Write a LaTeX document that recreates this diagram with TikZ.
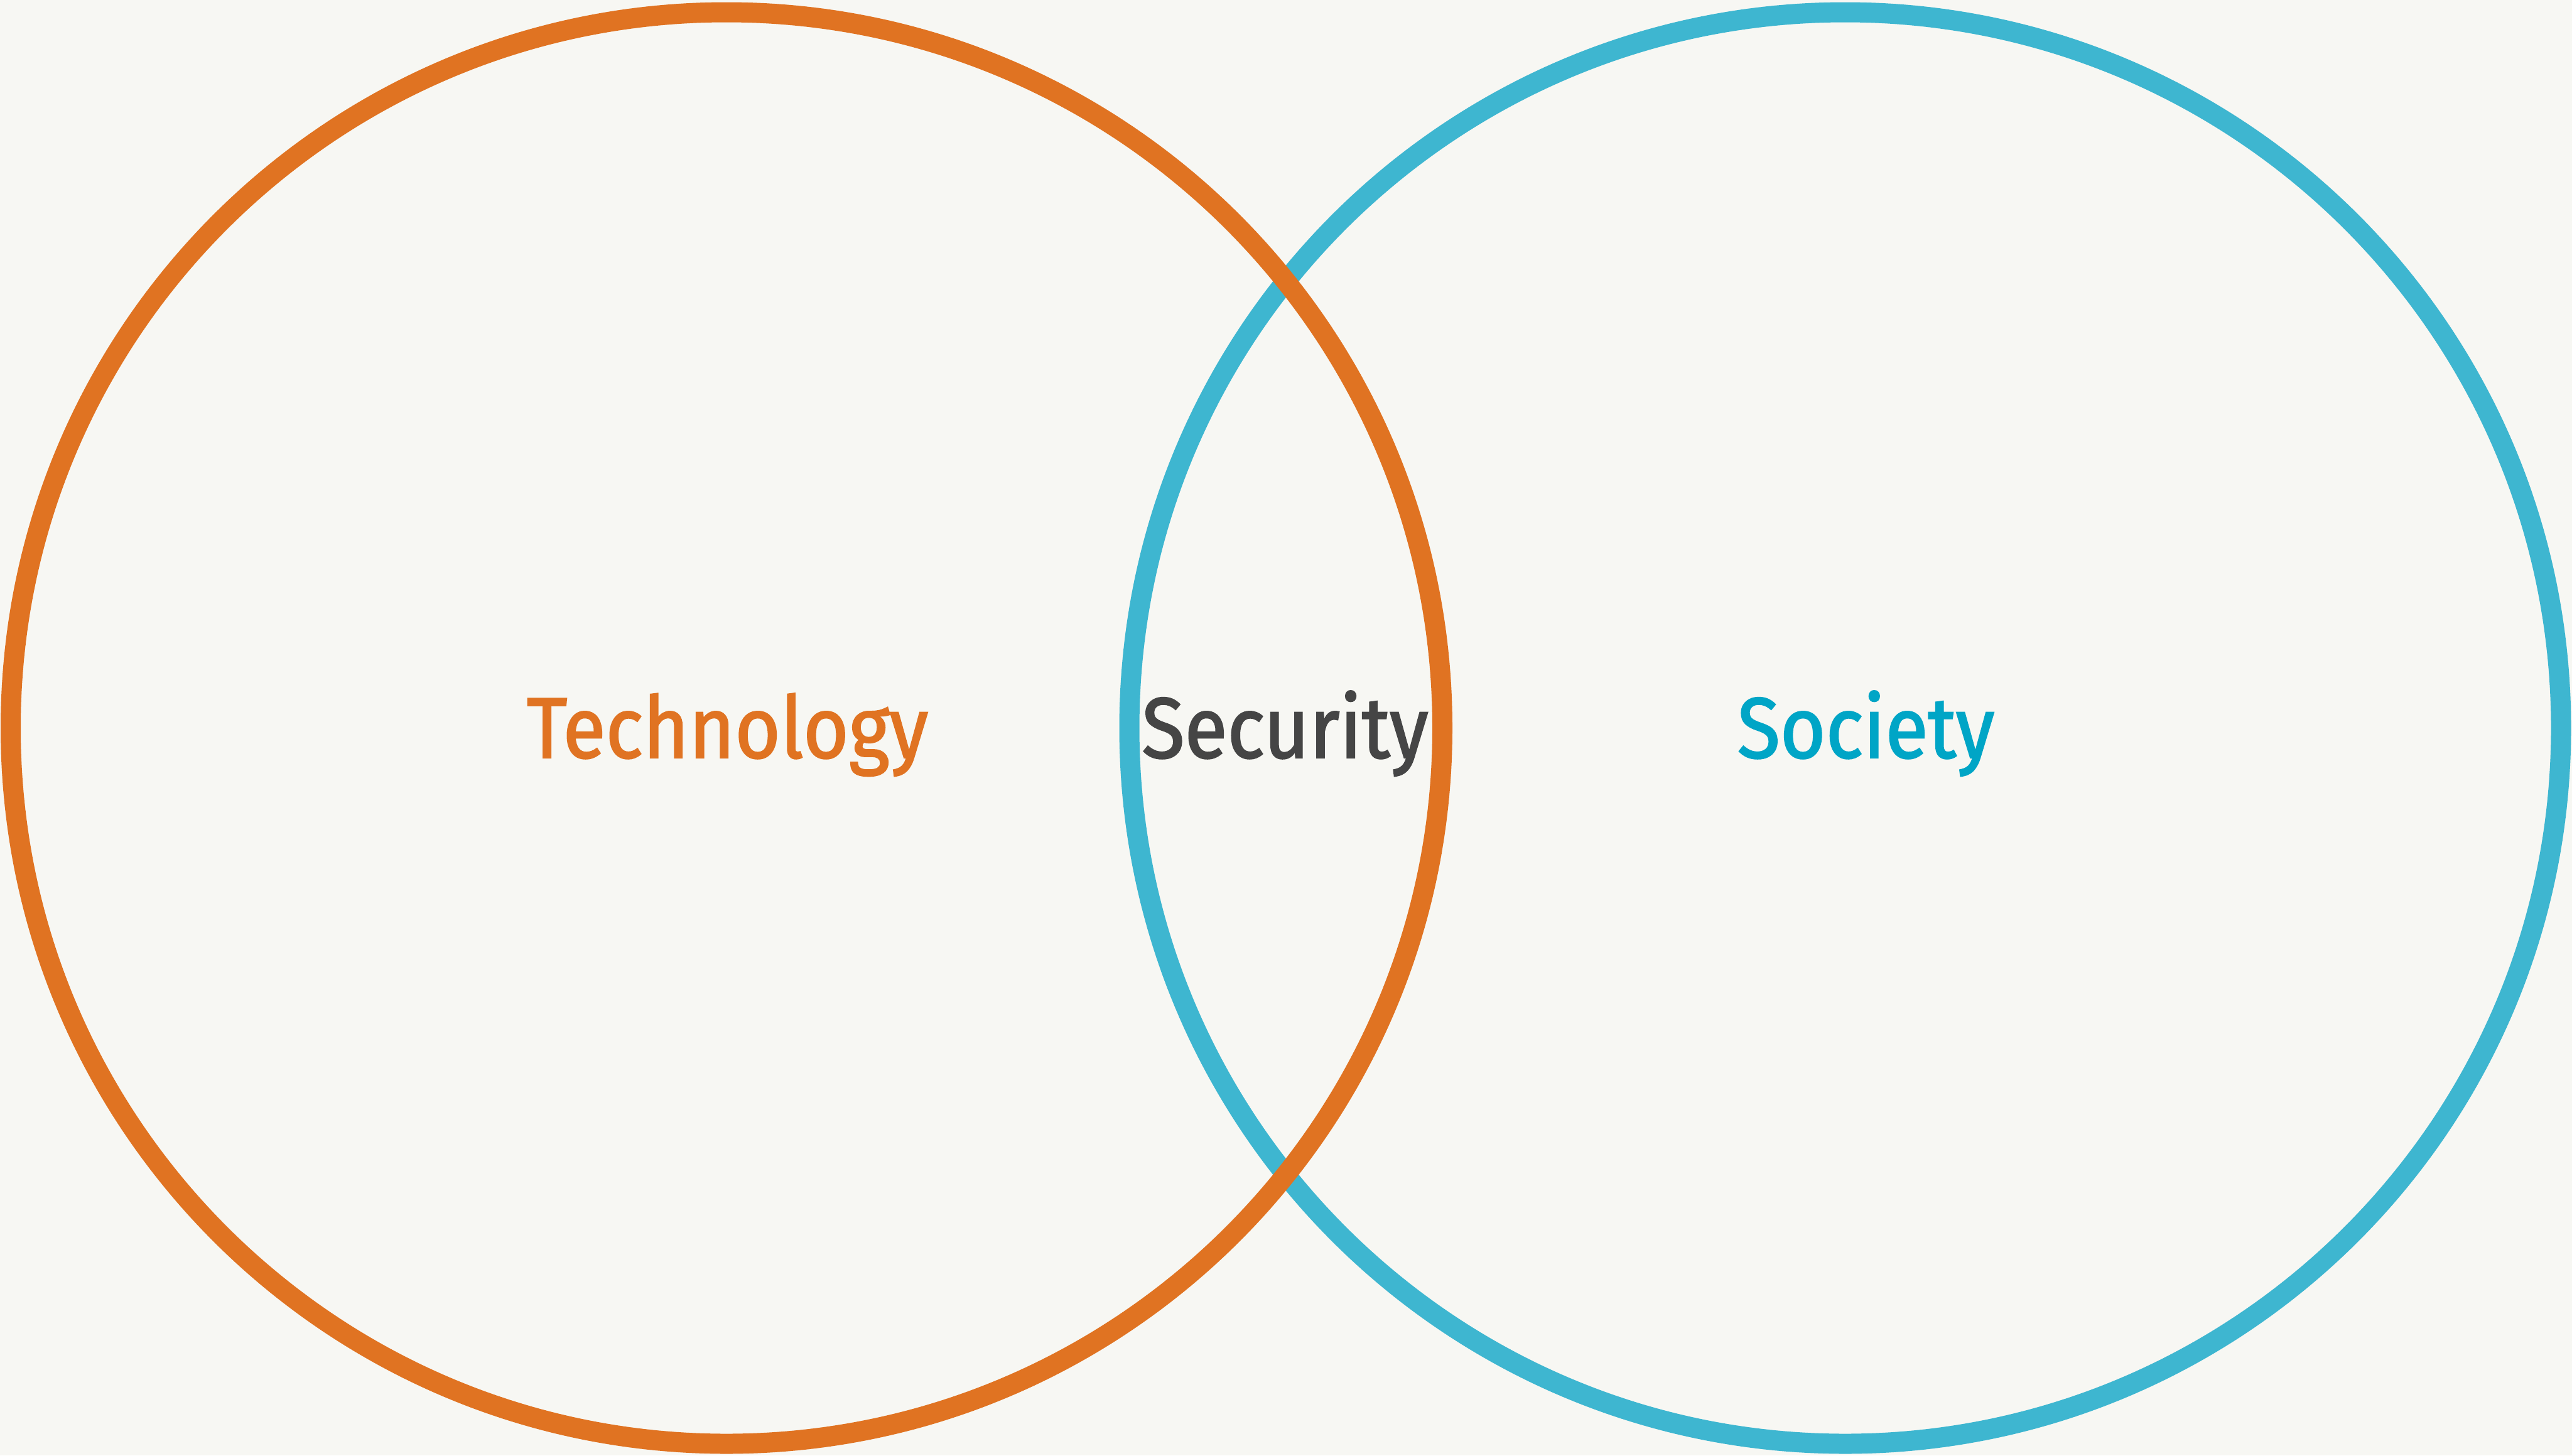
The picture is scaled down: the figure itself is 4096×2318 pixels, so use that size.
\documentclass[tikz,border=0pt]{standalone}
\usepackage{fontspec}
\newfontfamily\labelfont[FakeStretch=0.91,FakeBold=1.6]{Fira Sans}
\definecolor{bgpaper}{RGB}{247,247,243}
\definecolor{techorange}{RGB}{224,115,34}
\definecolor{socring}{RGB}{62,182,208}
\definecolor{soctext}{RGB}{0,165,198}
\definecolor{secgrey}{RGB}{69,69,69}
\begin{document}
\begin{tikzpicture}[x=0.1mm,y=-0.1mm,
  ring/.style={line width=3.2mm},
  label/.style={anchor=base,inner sep=0pt,font=\labelfont\fontsize{39pt}{44pt}\selectfont}]
  % paper
  \fill[bgpaper] (0,0) rectangle (4096,2318);
  \useasboundingbox (0,0) rectangle (4096,2318);
  % circle centres
  \coordinate (tc) at (1157,1159.5);
  \coordinate (sc) at (2938.5,1159.5);
  % society ring underneath, technology ring on top
  \draw[ring,socring] (sc) circle[radius=1140];
  \draw[ring,techorange] (tc) circle[radius=1140];
  % labels
  \node[label,text=techorange] (tech) at (1158.5,1207) {Technology};
  \node[label,text=secgrey] (sec) at (2046.5,1207) {Security};
  \node[label,text=soctext] (soc) at (2971.5,1207) {Society};
\end{tikzpicture}
\end{document}
